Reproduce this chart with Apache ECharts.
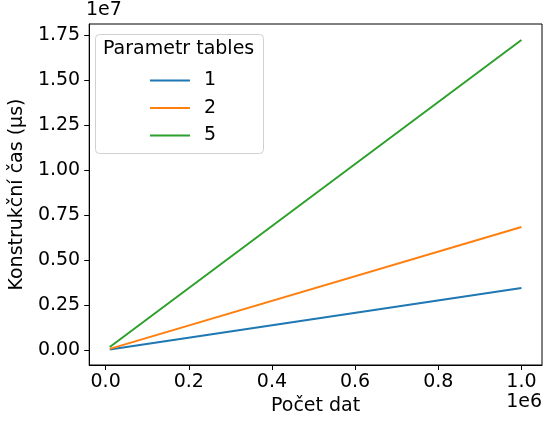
<!DOCTYPE html>
<html>
<head>
<meta charset="utf-8">
<script src="https://cdn.jsdelivr.net/npm/echarts@6/dist/echarts.min.js"></script>
<style>
  html, body { margin: 0; padding: 0; background: #fff; }
  #chart { width: 544px; height: 421px; }
</style>
</head>
<body>
<div id="chart"></div>
<script>
// data (x: number of records, y: build time in µs)
const xValues = [10000, 1000000];
const series1 = [34500, 3450000];
const series2 = [69000, 6850000];
const series5 = [172000, 17250000];
const seriesNames = ['1', '2', '5'];
const seriesColors = ['#1f77b4', '#ff7f0e', '#2ca02c'];
const xTicks = [0, 200000, 400000, 600000, 800000, 1000000];
const yTicks = [0, 2500000, 5000000, 7500000, 10000000, 12500000, 15000000, 17500000];

const font = 'DejaVu Sans';
const fs = 19;
const chart = echarts.init(document.getElementById('chart'));

const pairs = (ys) => xValues.map((x, i) => [x, ys[i]]);
const allY = [series1, series2, series5];

const option = {
  animation: false,
  textStyle: { fontFamily: font },
  grid: {
    left: 86, top: 24, right: 2, bottom: 56,
    show: true, borderColor: '#000', borderWidth: 1
  },
  xAxis: {
    type: 'value',
    min: -39500,
    max: 1049500,
    splitLine: { show: false },
    axisLine: { onZero: false, lineStyle: { color: '#000' } },
    axisTick: { show: true, length: 5, customValues: xTicks, lineStyle: { color: '#000' } },
    axisLabel: {
      customValues: xTicks, color: '#000', fontSize: fs, margin: 8, fontFamily: font,
      formatter: v => (v / 1e6).toFixed(1)
    },
    name: 'Počet dat',
    nameLocation: 'middle',
    nameGap: 31,
    nameTextStyle: { color: '#000', fontSize: fs, fontFamily: font, verticalAlign: 'top' }
  },
  yAxis: {
    type: 'value',
    min: -830000,
    max: 18140000,
    splitLine: { show: false },
    axisLine: { show: true, onZero: false, lineStyle: { color: '#000' } },
    axisTick: { show: true, length: 5, customValues: yTicks, lineStyle: { color: '#000' } },
    axisLabel: {
      customValues: yTicks, color: '#000', fontSize: fs, margin: 9, fontFamily: font,
      formatter: v => (v / 1e7).toFixed(2)
    },
    name: 'Konstrukční čas (μs)',
    nameLocation: 'middle',
    nameGap: 58,
    nameTextStyle: { color: '#000', fontSize: fs, fontFamily: font }
  },
  legend: {
    orient: 'vertical',
    left: 145,
    top: 66,
    itemWidth: 40,
    itemHeight: 14,
    itemGap: 8.5,
    z: 60,
    icon: 'path://M0,0 L40,0 L40,2 L0,2 Z',
    symbolKeepAspect: true,
    data: seriesNames,
    textStyle: { color: '#000', fontSize: fs, fontFamily: font, padding: [0, 0, 0, 9] }
  },
  graphic: [
    {
      type: 'rect',
      left: 95, top: 34,
      shape: { width: 168, height: 119, r: 4 },
      style: { fill: 'rgba(255,255,255,0.8)', stroke: '#d0d0d0', lineWidth: 1 },
      z: 50
    },
    {
      type: 'text', left: 103, top: 40,
      style: { text: 'Parametr tables', font: fs + 'px "DejaVu Sans"', fill: '#000' },
      z: 51
    },
    {
      type: 'text', left: 86, top: 1,
      style: { text: '1e7', font: fs + 'px "DejaVu Sans"', fill: '#000' }
    },
    {
      type: 'text', right: 2, top: 393,
      style: { text: '1e6', font: fs + 'px "DejaVu Sans"', fill: '#000' }
    }
  ],
  series: seriesNames.map((name, i) => ({
    name: name,
    type: 'line',
    data: pairs(allY[i]),
    symbol: 'none',
    lineStyle: { width: 2, color: seriesColors[i] },
    itemStyle: { color: seriesColors[i] }
  }))
};

chart.setOption(option);
</script>
</body>
</html>
